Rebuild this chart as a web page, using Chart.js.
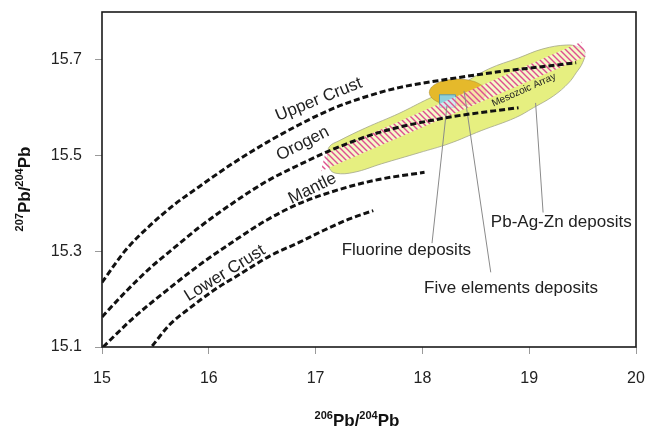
<!DOCTYPE html>
<html>
<head>
<meta charset="utf-8">
<script src="https://cdn.jsdelivr.net/npm/chart.js@4.4.1/dist/chart.umd.min.js"></script>
<style>
  html, body { margin: 0; padding: 0; background: #fff; }
</style>
</head>
<body>
<canvas id="leadChart" width="648" height="429"></canvas>
<script>
// tick labels
const xTicks = [15, 16, 17, 18, 19, 20];
const yTicks = [15.1, 15.3, 15.5, 15.7];

// growth curves (206Pb/204Pb vs 207Pb/204Pb)
const upperCrustX = [15.00, 15.22, 15.45, 15.68, 15.91, 16.22, 16.54, 16.85, 17.16, 17.47, 17.78, 18.25, 18.71, 19.09, 19.44];
const upperCrustY = [15.235, 15.302, 15.354, 15.398, 15.435, 15.483, 15.527, 15.565, 15.598, 15.623, 15.642, 15.660, 15.675, 15.685, 15.694];
const orogenX = [15.00, 15.22, 15.45, 15.68, 15.91, 16.22, 16.54, 16.85, 17.13, 17.59, 18.22, 18.90];
const orogenY = [15.163, 15.215, 15.265, 15.308, 15.350, 15.400, 15.446, 15.481, 15.510, 15.548, 15.579, 15.600];
const mantleX = [15.01, 15.29, 15.61, 15.91, 16.22, 16.54, 16.85, 17.22, 17.59, 18.02];
const mantleY = [15.100, 15.160, 15.219, 15.271, 15.319, 15.365, 15.400, 15.429, 15.450, 15.465];
const lowerCrustX = [15.47, 15.63, 15.82, 16.05, 16.29, 16.57, 16.85, 17.06, 17.31, 17.54];
const lowerCrustY = [15.102, 15.146, 15.181, 15.219, 15.252, 15.290, 15.319, 15.342, 15.367, 15.385];

// Pb-Ag-Zn deposits field outline
const pbZnX = [17.11, 17.13, 17.22, 17.47, 17.78, 18.06, 18.34, 18.62, 18.90, 19.13, 19.35, 19.46, 19.52, 19.50, 19.44, 19.37, 19.23, 19.04, 18.87, 18.55, 18.25, 17.97, 17.62, 17.36, 17.19, 17.13, 17.11];
const pbZnY = [15.500, 15.519, 15.531, 15.558, 15.588, 15.619, 15.646, 15.681, 15.704, 15.723, 15.731, 15.727, 15.715, 15.694, 15.673, 15.652, 15.625, 15.600, 15.579, 15.552, 15.525, 15.506, 15.483, 15.465, 15.463, 15.473, 15.500];

// Mesozoic array band
const mesozoicX = [17.09, 19.49, 19.54, 17.05, 17.09];
const mesozoicY = [15.504, 15.738, 15.708, 15.467, 15.504];

// Fluorine deposits box
const fluorineX = [18.16, 18.31, 18.31, 18.16, 18.16];
const fluorineY = [15.601, 15.601, 15.627, 15.627, 15.601];

// Five elements deposits ellipse: centre and half axes
const fiveCentre = [18.33, 15.632];
const fiveHalfAxes = [0.266, 0.028];

// leader lines
const fluorineLeadX = [18.23, 18.09];
const fluorineLeadY = [15.604, 15.317];
const fiveLeadX = [18.39, 18.64];
const fiveLeadY = [15.635, 15.256];
const pbZnLeadX = [19.06, 19.13];
const pbZnLeadY = [15.610, 15.381];

const FONT = '"Liberation Sans", Arial, Helvetica, sans-serif';

function pts(xs, ys) {
    return xs.map((x, i) => ({x: x, y: ys[i]}));
}

function hatchPattern() {
    const c = document.createElement('canvas');
    c.width = 6; c.height = 6;
    const g = c.getContext('2d');
    g.fillStyle = 'rgba(255,255,250,0.6)';
    g.fillRect(0, 0, 6, 6);
    g.strokeStyle = '#de4f8e';
    g.lineWidth = 1.4;
    g.beginPath();
    g.moveTo(-1, -1); g.lineTo(7, 7);
    g.moveTo(-1, 5); g.lineTo(1, 7);
    g.moveTo(5, -1); g.lineTo(7, 1);
    g.stroke();
    return g.createPattern(c, 'repeat');
}

function curve(label, xs, ys) {
    return {
        label: label,
        data: pts(xs, ys),
        borderColor: '#111',
        borderWidth: 3,
        borderDash: [6, 3],
        pointRadius: 0,
        cubicInterpolationMode: 'monotone',
        fill: false,
        order: 1
    };
}

function leader(label, xs, ys) {
    return {
        label: label,
        data: pts(xs, ys),
        borderColor: '#8a8a8a',
        borderWidth: 1,
        pointRadius: 0,
        tension: 0,
        fill: false,
        order: 5
    };
}

// texts placed in data units
const curveTexts = [
    {text: 'Upper Crust', x: 17.03, y: 15.617, angle: -22, size: 17},
    {text: 'Orogen', x: 16.88, y: 15.525, angle: -27, size: 17},
    {text: 'Mantle', x: 16.97, y: 15.431, angle: -26, size: 17},
    {text: 'Lower Crust', x: 16.15, y: 15.254, angle: -32, size: 17},
    {text: 'Mesozoic Array', x: 18.95, y: 15.637, angle: -24, size: 10},
    {text: 'Fluorine deposits', x: 17.85, y: 15.302, angle: 0, size: 17},
    {text: 'Five elements deposits', x: 18.83, y: 15.223, angle: 0, size: 17},
    {text: 'Pb-Ag-Zn deposits', x: 19.30, y: 15.360, angle: 0, size: 17}
];

function drawSupTitle(ctx, parts, cx, cy) {
    let total = 0;
    parts.forEach(p => {
        ctx.font = p.sup ? 'bold 11px ' + FONT : 'bold 17px ' + FONT;
        p.w = ctx.measureText(p.t).width;
        total += p.w;
    });
    let x = cx - total / 2;
    parts.forEach(p => {
        ctx.font = p.sup ? 'bold 11px ' + FONT : 'bold 17px ' + FONT;
        ctx.fillText(p.t, x, p.sup ? cy - 7 : cy);
        x += p.w;
    });
}

const overlay = {
    id: 'overlay',
    afterDatasetDraw(chart, args) {
        if (chart.data.datasets[args.index].label !== 'Pb-Ag-Zn field') return;
        const xs = chart.scales.x, ys = chart.scales.y;
        const cx = xs.getPixelForValue(fiveCentre[0]);
        const cy = ys.getPixelForValue(fiveCentre[1]);
        const rx = xs.getPixelForValue(fiveCentre[0] + fiveHalfAxes[0]) - cx;
        const ry = cy - ys.getPixelForValue(fiveCentre[1] + fiveHalfAxes[1]);
        const ctx = chart.ctx;
        ctx.save();
        ctx.beginPath();
        ctx.ellipse(cx, cy, rx, ry, 0, 0, Math.PI * 2);
        ctx.fillStyle = '#e5b92b';
        ctx.fill();
        ctx.strokeStyle = 'rgba(150,120,40,0.5)';
        ctx.lineWidth = 0.8;
        ctx.stroke();
        ctx.restore();
    },
    afterDraw(chart) {
        const ctx = chart.ctx;
        const a = chart.chartArea;
        const xs = chart.scales.x, ys = chart.scales.y;
        ctx.save();
        // frame
        ctx.strokeStyle = '#1a1a1a';
        ctx.lineWidth = 1.6;
        ctx.strokeRect(a.left, a.top, a.right - a.left, a.bottom - a.top);

        // annotations
        ctx.fillStyle = '#222';
        ctx.textAlign = 'center';
        ctx.textBaseline = 'middle';
        curveTexts.forEach(t => {
            ctx.save();
            ctx.translate(xs.getPixelForValue(t.x), ys.getPixelForValue(t.y));
            ctx.rotate(t.angle * Math.PI / 180);
            ctx.font = t.size + 'px ' + FONT;
            ctx.fillText(t.text, 0, 0);
            ctx.restore();
        });

        // axis titles
        ctx.fillStyle = '#111';
        ctx.textAlign = 'left';
        ctx.textBaseline = 'alphabetic';
        drawSupTitle(ctx, [{t: '206', sup: true}, {t: 'Pb/', sup: false}, {t: '204', sup: true}, {t: 'Pb', sup: false}],
            (a.left + a.right) / 2 - 12, 426);
        ctx.save();
        ctx.translate(30, 189);
        ctx.rotate(-Math.PI / 2);
        drawSupTitle(ctx, [{t: '207', sup: true}, {t: 'Pb/', sup: false}, {t: '204', sup: true}, {t: 'Pb', sup: false}], 0, 0);
        ctx.restore();
        ctx.restore();
    }
};

document.addEventListener('DOMContentLoaded', () => {
    const ctx = document.getElementById('leadChart').getContext('2d');
    new Chart(ctx, {
        type: 'line',
        data: {
            datasets: [
                curve('Upper Crust', upperCrustX, upperCrustY),
                curve('Orogen', orogenX, orogenY),
                curve('Mantle', mantleX, mantleY),
                curve('Lower Crust', lowerCrustX, lowerCrustY),
                leader('Fluorine lead', fluorineLeadX, fluorineLeadY),
                leader('Five elements lead', fiveLeadX, fiveLeadY),
                leader('Pb-Ag-Zn lead', pbZnLeadX, pbZnLeadY),
                {
                    label: 'Mesozoic Array',
                    data: pts(mesozoicX, mesozoicY),
                    borderWidth: 0,
                    borderColor: 'rgba(0,0,0,0)',
                    backgroundColor: hatchPattern(),
                    pointRadius: 0,
                    tension: 0,
                    fill: 'shape',
                    order: 8
                },
                {
                    label: 'Fluorine deposits',
                    data: pts(fluorineX, fluorineY),
                    borderWidth: 1,
                    borderColor: '#5d9aa6',
                    backgroundColor: '#8fd0dc',
                    pointRadius: 0,
                    tension: 0,
                    fill: 'shape',
                    order: 9
                },
                {
                    label: 'Pb-Ag-Zn field',
                    data: pts(pbZnX, pbZnY),
                    borderWidth: 0.8,
                    borderColor: '#a3a68a',
                    backgroundColor: '#e6ef80',
                    pointRadius: 0,
                    tension: 0.4,
                    fill: 'shape',
                    order: 10
                }
            ]
        },
        options: {
            responsive: false,
            animation: false,
            layout: { padding: { top: 12, right: 12, left: 0, bottom: 0 } },
            plugins: {
                legend: { display: false },
                tooltip: { enabled: false }
            },
            scales: {
                x: {
                    type: 'linear',
                    min: 15,
                    max: 20,
                    afterBuildTicks: s => { s.ticks = xTicks.map(v => ({value: v})); },
                    afterFit: s => { s.height = 82; s.paddingLeft = 0; s.paddingRight = 0; },
                    border: { display: false },
                    grid: { drawOnChartArea: false, tickLength: 7, color: '#9a9a9a' },
                    ticks: { padding: 15, color: '#222', font: { family: FONT, size: 16 }, callback: v => String(v) }
                },
                y: {
                    type: 'linear',
                    min: 15.1,
                    max: 15.8,
                    afterBuildTicks: s => { s.ticks = yTicks.map(v => ({value: v})); },
                    afterFit: s => { s.width = 102; s.paddingTop = 0; s.paddingBottom = 0; },
                    border: { display: false },
                    grid: { drawOnChartArea: false, tickLength: 7, color: '#9a9a9a' },
                    ticks: { padding: 13, color: '#222', font: { family: FONT, size: 16 }, callback: v => v.toFixed(1) }
                }
            }
        },
        plugins: [overlay]
    });
});
</script>
</body>
</html>
